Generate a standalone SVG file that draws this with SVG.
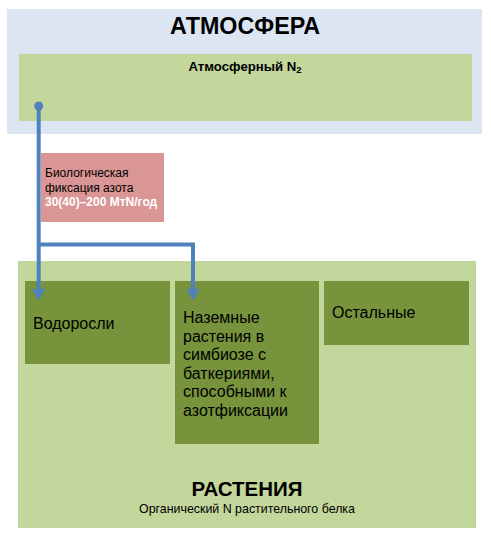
<svg xmlns="http://www.w3.org/2000/svg" width="491" height="544" viewBox="0 0 491 544">
<style>
text{font-family:"Liberation Sans",Arial,sans-serif;fill:#000}
.b{font-weight:bold}
.dk{fill:#77933C}
.lg{fill:#C3D69B}
.t{font-size:16px}
.p{font-size:12px}
.ln{fill:none;stroke:#4F81BD;stroke-width:4}
</style>
<defs>
<marker id="ah" viewBox="0 0 10 14" refX="10" refY="7" markerWidth="10" markerHeight="14" markerUnits="userSpaceOnUse" orient="auto">
<path d="M0,0 L10,7 L0,14 Z" fill="#4F81BD"/>
</marker>
</defs>
<g id="atmosphere">
<rect x="7" y="9" width="475" height="125" fill="#DCE6F2"/>
<text x="245" y="34" text-anchor="middle" class="b" font-size="23.3">АТМОСФЕРА</text>
</g>
<g id="n2">
<rect x="19" y="54" width="453" height="67" class="lg"/>
<text x="245" y="71" text-anchor="middle" class="b" font-size="13.2">Атмосферный N<tspan font-size="9.5" dy="2">2</tspan></text>
</g>
<g id="fixation">
<rect x="41" y="153" width="123" height="69" fill="#DA9694"/>
<text x="45" y="177" class="p">Биологическая</text>
<text x="45" y="192" class="p">фиксация азота</text>
<text x="45" y="206" class="p b" style="fill:#fff">30(40)–200 МтN/год</text>
</g>
<g id="plants">
<rect x="18" y="261" width="458" height="267" class="lg"/>
<text x="247" y="496" text-anchor="middle" class="b" font-size="20.5">РАСТЕНИЯ</text>
<text x="247" y="513" text-anchor="middle" font-size="12.4">Органический N растительного белка</text>
</g>
<g id="algae">
<rect x="25" y="281" width="145" height="83" class="dk"/>
<text x="33" y="329" class="t">Водоросли</text>
</g>
<g id="land">
<rect x="175" y="281" width="144" height="163" class="dk"/>
<text x="183" y="323" class="t">Наземные</text>
<text x="183" y="341.5" class="t">растения в</text>
<text x="183" y="360" class="t">симбиозе с</text>
<text x="183" y="378.5" class="t">баткериями,</text>
<text x="183" y="397" class="t">способными к</text>
<text x="183" y="415.5" class="t">азотфиксации</text>
</g>
<g id="others">
<rect x="324" y="281" width="145" height="64" class="dk"/>
<text x="332" y="318" class="t">Остальные</text>
</g>
<g id="connectors">
<circle cx="38.7" cy="106" r="4.5" fill="#4F81BD"/>
<path class="ln" d="M38.7,106 V299" marker-end="url(#ah)"/>
<path class="ln" d="M38.7,244.5 H193 V299" marker-end="url(#ah)"/>
</g>
</svg>
